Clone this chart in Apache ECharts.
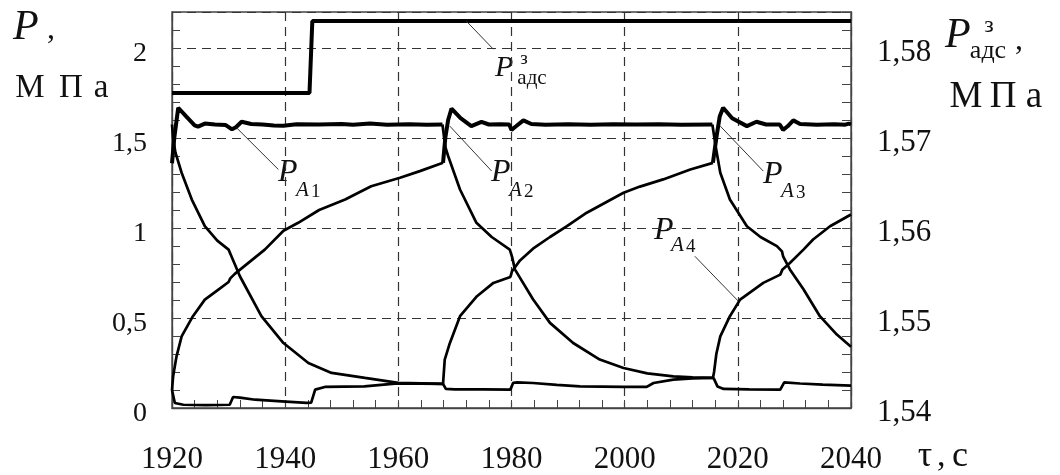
<!DOCTYPE html>
<html>
<head>
<meta charset="utf-8">
<title>P(τ)</title>
<script src="https://cdn.jsdelivr.net/npm/echarts@6/dist/echarts.min.js"></script>
<style>
    html, body { margin: 0; padding: 0; background: #fff; }
    #chart { width: 1060px; height: 475px; }
</style>
</head>
<body>
<div id="chart"></div>
<script>
(function () {
    // axis ranges, s and MPa
    var timeRange = [1920, 2040];
    var pRange = [0, 2.2];
    var padcRange = [1.54, 1.584];

    // P_adc (right axis)
    var padc = [[1920, 1.575], [1944.3, 1.575], [1944.8, 1.583], [2040, 1.583]];

    // accumulator A1
    var a1High = [[1920, 1.36], [1920.4, 1.5], [1921.1, 1.668], [1922.5, 1.62], [1924.0, 1.57], [1924.6, 1.563],
        [1925.8, 1.58], [1927.6, 1.575], [1929.5, 1.572], [1930.6, 1.548], [1931.3, 1.56], [1932.3, 1.59],
        [1934, 1.578], [1936, 1.575], [1938, 1.57], [1939.7, 1.568], [1942, 1.576], [1946, 1.575], [1950, 1.578],
        [1952, 1.573], [1955, 1.58], [1958, 1.574], [1962, 1.576], [1965, 1.574], [1967.8, 1.575]];
    var a1Fall = [[1967.8, 1.575], [1968.3, 1.45], [1968.8, 1.4], [1970.9, 1.214], [1973.8, 1.029], [1976.5, 0.95],
        [1979.7, 0.88], [1980.1, 0.84], [1980.6, 0.77], [1983.8, 0.604], [1986.8, 0.473], [1990.9, 0.361],
        [1995.6, 0.269], [1999.8, 0.222], [2004, 0.192], [2008.6, 0.176], [2012, 0.17], [2015.7, 0.167]];
    var a1Low = [[2015.7, 0.167], [2016.4, 0.12], [2017.5, 0.106], [2022, 0.104], [2027.5, 0.102], [2028.2, 0.142],
        [2031, 0.136], [2035, 0.13], [2040, 0.124]];

    // accumulator A2
    var a2Rise = [[1920, 0.1], [1920.2, 0.176], [1920.8, 0.287], [1921.7, 0.398], [1923.7, 0.51], [1925.8, 0.602],
        [1928.2, 0.658], [1930, 0.7], [1930.3, 0.72], [1931.1, 0.745], [1933.5, 0.806], [1936.4, 0.88],
        [1939.7, 0.985], [1942.3, 1.029], [1946, 1.1], [1950.6, 1.158], [1955.2, 1.232], [1960.3, 1.279],
        [1963.8, 1.316], [1967.9, 1.362]];
    var a2High = [[1967.9, 1.362], [1968.3, 1.5], [1968.8, 1.6], [1969.4, 1.663], [1971, 1.61], [1972.9, 1.566],
        [1974.7, 1.59], [1976, 1.575], [1978, 1.577], [1979.6, 1.575], [1980, 1.545], [1980.8, 1.565],
        [1982.1, 1.598], [1983.5, 1.578], [1986, 1.574], [1990, 1.577], [1994, 1.574], [1998, 1.576],
        [2002, 1.575], [2006, 1.577], [2010, 1.574], [2015.5, 1.575]];
    var a2Fall = [[2015.5, 1.575], [2016.1, 1.45], [2016.9, 1.307], [2018.6, 1.158], [2021.6, 1.01], [2024, 0.95],
        [2026.9, 0.899], [2027.8, 0.87], [2028, 0.843], [2029.2, 0.77], [2031.6, 0.66], [2034.5, 0.51],
        [2037.5, 0.408], [2040, 0.34]];

    // accumulator A3
    var a3Low = [[1920, 0.1], [1920.5, 0.028], [1922, 0.018], [1926, 0.016], [1930.2, 0.018], [1930.8, 0.061],
        [1932, 0.058], [1934.7, 0.046], [1939.4, 0.037], [1943.8, 0.028], [1944.6, 0.03], [1945.3, 0.102],
        [1947, 0.117], [1954, 0.12], [1959.4, 0.135], [1964, 0.135], [1967.9, 0.134]];
    var a3Rise = [[1967.9, 0.134], [1968.2, 0.269], [1969.1, 0.36], [1970.9, 0.51], [1973.9, 0.621],
        [1976.8, 0.695], [1979.8, 0.728], [1980.1, 0.76], [1981.5, 0.82], [1983.8, 0.885], [1986.8, 0.95],
        [1989.8, 1.01], [1993.3, 1.085], [1999.8, 1.196], [2002.7, 1.23], [2006.8, 1.27], [2011.6, 1.325],
        [2015.6, 1.362]];
    var a3High = [[2015.6, 1.362], [2016.2, 1.5], [2016.8, 1.62], [2017.4, 1.668], [2019, 1.61], [2021.6, 1.566],
        [2023.3, 1.59], [2025, 1.575], [2027.4, 1.575], [2028, 1.545], [2028.8, 1.565], [2029.8, 1.598],
        [2031, 1.578], [2034, 1.574], [2037, 1.576], [2039, 1.574], [2039.6, 1.58], [2040, 1.576]];

    // accumulator A4
    var a4Fall = [[1920, 1.575], [1920.2, 1.5], [1920.6, 1.42], [1921.7, 1.307], [1923.5, 1.158], [1925.8, 1.01],
        [1928, 0.93], [1930, 0.88], [1930.5, 0.843], [1932, 0.732], [1935.8, 0.51], [1939.7, 0.361],
        [1944.1, 0.25], [1948.2, 0.195], [1954.1, 0.167], [1960, 0.14], [1964, 0.137], [1967.9, 0.134]];
    var a4Low = [[1967.9, 0.134], [1968.4, 0.106], [1970, 0.104], [1975, 0.103], [1979.8, 0.102], [1980.3, 0.14],
        [1981, 0.142], [1983.8, 0.139], [1988, 0.128], [1992.1, 0.12], [1999.8, 0.117], [2003.9, 0.117],
        [2005.1, 0.139], [2008.6, 0.158], [2012, 0.165], [2015.6, 0.167]];
    var a4Rise = [[2015.6, 0.167], [2015.8, 0.2], [2016.2, 0.3], [2016.9, 0.398], [2018.6, 0.51], [2020.4, 0.602],
        [2024.5, 0.695], [2027.5, 0.741], [2027.9, 0.77], [2029.2, 0.806], [2031.6, 0.88], [2033.3, 0.936],
        [2036.3, 1.01], [2040, 1.075]];

    // leader lines of the curve labels (left axis units)
    var leaders = [
        [[1972.0, 2.15], [1976.8, 1.993]],
        [[1931.4, 1.557], [1938.8, 1.325]],
        [[1969.1, 1.566], [1976.5, 1.316]],
        [[2016.9, 1.566], [2024.5, 1.316]],
        [[2012.4, 0.843], [2020.1, 0.593]]
    ];

    var serif = "'Liberation Serif', 'Times New Roman', serif";
    var axisColor = '#444';
    var gridLine = { show: true, lineStyle: { color: '#333', width: 1.2, type: [9, 6] } };

    var commaFmt = function (limit) {
        return function (v) {
            if (v > limit) {
                return '';
            }
            return String(Math.round(v * 1000) / 1000).replace('.', ',');
        };
    };

    var line = function (data, width, yIdx) {
        return {
            type: 'line',
            data: data,
            yAxisIndex: yIdx || 0,
            showSymbol: false,
            symbol: 'none',
            silent: true,
            lineStyle: { color: '#000', width: width }
        };
    };

    var text = function (x, y, s, size, italic, align) {
        return {
            type: 'text',
            x: x,
            y: y,
            silent: true,
            style: {
                text: s,
                fontSize: size,
                fontFamily: serif,
                fontStyle: italic ? 'italic' : 'normal',
                fill: '#111',
                align: align || 'left',
                verticalAlign: 'middle'
            }
        };
    };

    var series = [
        line(padc, 4, 2),
        line(a1High, 4), line(a2High, 4), line(a3High, 4),
        line(a1Fall, 2.7), line(a1Low, 2.7),
        line(a2Rise, 2.7), line(a2Fall, 2.7),
        line(a3Low, 2.7), line(a3Rise, 2.7),
        line(a4Fall, 2.7), line(a4Low, 2.7), line(a4Rise, 2.7)
    ];
    for (var i = 0; i < leaders.length; i++) {
        var s = line(leaders[i], 1);
        s.lineStyle.color = '#333';
        series.push(s);
    }

    var graphic = [
        // left axis title
        text(13, 28, 'P', 42, true),
        text(47, 30, ',', 32),
        text(30, 88, 'М', 33, false, 'center'),
        text(71, 88, 'П', 33, false, 'center'),
        text(101, 88, 'а', 33, false, 'center'),
        // right axis title
        text(945, 36, 'P', 42, true),
        text(989, 26, 'з', 24, false, 'center'),
        text(988, 51, 'адс', 26, false, 'center'),
        text(1015, 41, ',', 32),
        text(966, 97, 'М', 37, false, 'center'),
        text(1003, 97, 'П', 37, false, 'center'),
        text(1034, 97, 'а', 37, false, 'center'),
        // x axis title
        text(925, 457, 'τ', 36, false, 'center'),
        text(937, 457, ',', 34),
        text(960, 457, 'с', 36, false, 'center'),
        // curve labels
        text(495, 68, 'P', 30, true),
        text(524, 59, 'з', 19, false, 'center'),
        text(532, 78, 'адс', 21, false, 'center'),
        text(278, 173, 'P', 32, true),
        text(296, 190, 'A', 21, true),
        text(311, 192, '1', 19),
        text(491, 173, 'P', 32, true),
        text(509, 190, 'A', 21, true),
        text(524, 192, '2', 19),
        text(763, 175, 'P', 32, true),
        text(781, 191, 'A', 21, true),
        text(796, 193, '3', 19),
        text(654, 231, 'P', 32, true),
        text(671, 245, 'A', 21, true),
        text(686, 247, '4', 19)
    ];

    var chartElem = document.getElementById('chart');
    var chart = echarts.init(chartElem, null, { renderer: 'canvas' });
    chart.setOption({
        animation: false,
        grid: {
            left: 172,
            right: 209,
            top: 12,
            bottom: 67,
            outerBoundsMode: 'none',
            show: true,
            borderColor: axisColor,
            borderWidth: 1.3
        },
        xAxis: {
            type: 'value',
            min: timeRange[0],
            max: timeRange[1],
            interval: 20,
            axisLine: { show: true, lineStyle: { color: axisColor, width: 1.3 } },
            axisTick: { show: true, inside: true, length: 8, lineStyle: { color: axisColor } },
            minorTick: { show: true, splitNumber: 5, length: 8, lineStyle: { color: axisColor, width: 1 } },
            axisLabel: {
                margin: 36, fontSize: 31, fontFamily: serif, color: '#111',
                formatter: function (v) { return String(v); }
            },
            splitLine: gridLine
        },
        yAxis: [
            {
                type: 'value',
                position: 'left',
                min: pRange[0],
                max: pRange[1],
                interval: 0.5,
                axisLine: { show: true, lineStyle: { color: axisColor, width: 1.3 } },
                axisTick: { show: false },
                axisLabel: {
                    margin: 25, fontSize: 28, fontFamily: serif, color: '#111',
                    verticalAlign: 'top', lineHeight: 11, formatter: commaFmt(2.05)
                },
                splitLine: gridLine
            },
            {
                type: 'value',
                position: 'left',
                min: pRange[0],
                max: pRange[1],
                interval: 0.1,
                axisLine: { show: false },
                axisTick: { show: true, inside: true, length: 8, lineStyle: { color: axisColor } },
                axisLabel: { show: false },
                splitLine: { show: false }
            },
            {
                type: 'value',
                position: 'right',
                min: padcRange[0],
                max: padcRange[1],
                interval: 0.01,
                axisLine: { show: true, lineStyle: { color: axisColor, width: 1.3 } },
                axisTick: { show: false },
                axisLabel: {
                    margin: 26, fontSize: 31, fontFamily: serif, color: '#111',
                    verticalAlign: 'top', lineHeight: 9, formatter: commaFmt(1.5805)
                },
                splitLine: { show: false }
            },
            {
                type: 'value',
                position: 'right',
                min: padcRange[0],
                max: padcRange[1],
                interval: 0.002,
                axisLine: { show: false },
                axisTick: { show: true, inside: true, length: 9, lineStyle: { color: axisColor } },
                axisLabel: { show: false },
                splitLine: { show: false }
            }
        ],
        graphic: graphic,
        series: series
    });

    window.addEventListener('resize', function () {
        chart.resize();
    });
})();
</script>
</body>
</html>
